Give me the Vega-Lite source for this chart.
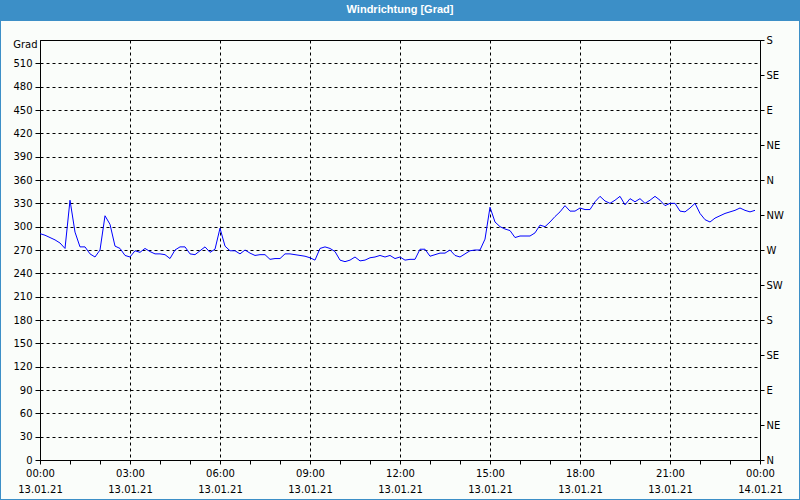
{
  "$schema": "https://vega.github.io/schema/vega-lite/v6.json",
  "width": 720,
  "height": 420,
  "autosize": {"type": "none"},
  "padding": {"left": 40, "top": 40, "right": 40, "bottom": 40},
  "background": "#fafdfa",
  "config": {
    "view": {"stroke": "black", "strokeWidth": 1},
    "axis": {"labelFont": "DejaVu Sans", "labelFontSize": 10, "labelColor": "black", "tickColor": "black", "domainColor": "black", "title": null}
  },
  "data": {"values": [
    {"t": "2021-01-13T00:00", "v": 291}, {"t": "2021-01-13T00:10", "v": 289}, {"t": "2021-01-13T00:20", "v": 286}, {"t": "2021-01-13T00:30", "v": 283}, {"t": "2021-01-13T00:40", "v": 279}, {"t": "2021-01-13T00:50", "v": 272},
    {"t": "2021-01-13T01:00", "v": 334}, {"t": "2021-01-13T01:10", "v": 293}, {"t": "2021-01-13T01:20", "v": 274}, {"t": "2021-01-13T01:30", "v": 274}, {"t": "2021-01-13T01:40", "v": 265}, {"t": "2021-01-13T01:50", "v": 261},
    {"t": "2021-01-13T02:00", "v": 270}, {"t": "2021-01-13T02:10", "v": 314}, {"t": "2021-01-13T02:20", "v": 303}, {"t": "2021-01-13T02:30", "v": 275}, {"t": "2021-01-13T02:40", "v": 272}, {"t": "2021-01-13T02:50", "v": 263},
    {"t": "2021-01-13T03:00", "v": 261}, {"t": "2021-01-13T03:10", "v": 269}, {"t": "2021-01-13T03:20", "v": 267}, {"t": "2021-01-13T03:30", "v": 272}, {"t": "2021-01-13T03:40", "v": 268}, {"t": "2021-01-13T03:50", "v": 265},
    {"t": "2021-01-13T04:00", "v": 265}, {"t": "2021-01-13T04:10", "v": 264}, {"t": "2021-01-13T04:20", "v": 259}, {"t": "2021-01-13T04:30", "v": 270}, {"t": "2021-01-13T04:40", "v": 274}, {"t": "2021-01-13T04:50", "v": 274},
    {"t": "2021-01-13T05:00", "v": 265}, {"t": "2021-01-13T05:10", "v": 264}, {"t": "2021-01-13T05:20", "v": 269}, {"t": "2021-01-13T05:30", "v": 274}, {"t": "2021-01-13T05:40", "v": 267}, {"t": "2021-01-13T05:50", "v": 271},
    {"t": "2021-01-13T06:00", "v": 298}, {"t": "2021-01-13T06:10", "v": 275}, {"t": "2021-01-13T06:20", "v": 269}, {"t": "2021-01-13T06:30", "v": 269}, {"t": "2021-01-13T06:40", "v": 265}, {"t": "2021-01-13T06:50", "v": 270},
    {"t": "2021-01-13T07:00", "v": 266}, {"t": "2021-01-13T07:10", "v": 263}, {"t": "2021-01-13T07:20", "v": 264}, {"t": "2021-01-13T07:30", "v": 264}, {"t": "2021-01-13T07:40", "v": 258}, {"t": "2021-01-13T07:50", "v": 259},
    {"t": "2021-01-13T08:00", "v": 259}, {"t": "2021-01-13T08:10", "v": 265}, {"t": "2021-01-13T08:20", "v": 265}, {"t": "2021-01-13T08:30", "v": 264}, {"t": "2021-01-13T08:40", "v": 263}, {"t": "2021-01-13T08:50", "v": 262},
    {"t": "2021-01-13T09:00", "v": 260}, {"t": "2021-01-13T09:10", "v": 257}, {"t": "2021-01-13T09:20", "v": 272}, {"t": "2021-01-13T09:30", "v": 274}, {"t": "2021-01-13T09:40", "v": 272}, {"t": "2021-01-13T09:50", "v": 268},
    {"t": "2021-01-13T10:00", "v": 257}, {"t": "2021-01-13T10:10", "v": 255}, {"t": "2021-01-13T10:20", "v": 257}, {"t": "2021-01-13T10:30", "v": 261}, {"t": "2021-01-13T10:40", "v": 256}, {"t": "2021-01-13T10:50", "v": 257},
    {"t": "2021-01-13T11:00", "v": 260}, {"t": "2021-01-13T11:10", "v": 261}, {"t": "2021-01-13T11:20", "v": 263}, {"t": "2021-01-13T11:30", "v": 261}, {"t": "2021-01-13T11:40", "v": 263}, {"t": "2021-01-13T11:50", "v": 259},
    {"t": "2021-01-13T12:00", "v": 261}, {"t": "2021-01-13T12:10", "v": 257}, {"t": "2021-01-13T12:20", "v": 258}, {"t": "2021-01-13T12:30", "v": 258}, {"t": "2021-01-13T12:40", "v": 271}, {"t": "2021-01-13T12:50", "v": 271},
    {"t": "2021-01-13T13:00", "v": 262}, {"t": "2021-01-13T13:10", "v": 264}, {"t": "2021-01-13T13:20", "v": 266}, {"t": "2021-01-13T13:30", "v": 266}, {"t": "2021-01-13T13:40", "v": 270}, {"t": "2021-01-13T13:50", "v": 263},
    {"t": "2021-01-13T14:00", "v": 261}, {"t": "2021-01-13T14:10", "v": 265}, {"t": "2021-01-13T14:20", "v": 269}, {"t": "2021-01-13T14:30", "v": 270}, {"t": "2021-01-13T14:40", "v": 270}, {"t": "2021-01-13T14:50", "v": 284},
    {"t": "2021-01-13T15:00", "v": 325}, {"t": "2021-01-13T15:10", "v": 306}, {"t": "2021-01-13T15:20", "v": 300}, {"t": "2021-01-13T15:30", "v": 297}, {"t": "2021-01-13T15:40", "v": 295}, {"t": "2021-01-13T15:50", "v": 286},
    {"t": "2021-01-13T16:00", "v": 288}, {"t": "2021-01-13T16:10", "v": 288}, {"t": "2021-01-13T16:20", "v": 288}, {"t": "2021-01-13T16:30", "v": 292}, {"t": "2021-01-13T16:40", "v": 302}, {"t": "2021-01-13T16:50", "v": 300},
    {"t": "2021-01-13T17:00", "v": 306}, {"t": "2021-01-13T17:10", "v": 313}, {"t": "2021-01-13T17:20", "v": 319}, {"t": "2021-01-13T17:30", "v": 327}, {"t": "2021-01-13T17:40", "v": 320}, {"t": "2021-01-13T17:50", "v": 320},
    {"t": "2021-01-13T18:00", "v": 324}, {"t": "2021-01-13T18:10", "v": 322}, {"t": "2021-01-13T18:20", "v": 322}, {"t": "2021-01-13T18:30", "v": 332}, {"t": "2021-01-13T18:40", "v": 339}, {"t": "2021-01-13T18:50", "v": 333},
    {"t": "2021-01-13T19:00", "v": 330}, {"t": "2021-01-13T19:10", "v": 334}, {"t": "2021-01-13T19:20", "v": 339}, {"t": "2021-01-13T19:30", "v": 328}, {"t": "2021-01-13T19:40", "v": 336}, {"t": "2021-01-13T19:50", "v": 332},
    {"t": "2021-01-13T20:00", "v": 336}, {"t": "2021-01-13T20:10", "v": 330}, {"t": "2021-01-13T20:20", "v": 334}, {"t": "2021-01-13T20:30", "v": 339}, {"t": "2021-01-13T20:40", "v": 334}, {"t": "2021-01-13T20:50", "v": 327},
    {"t": "2021-01-13T21:00", "v": 330}, {"t": "2021-01-13T21:10", "v": 330}, {"t": "2021-01-13T21:20", "v": 320}, {"t": "2021-01-13T21:30", "v": 319}, {"t": "2021-01-13T21:40", "v": 324}, {"t": "2021-01-13T21:50", "v": 330},
    {"t": "2021-01-13T22:00", "v": 317}, {"t": "2021-01-13T22:10", "v": 309}, {"t": "2021-01-13T22:20", "v": 306}, {"t": "2021-01-13T22:30", "v": 311}, {"t": "2021-01-13T22:40", "v": 314}, {"t": "2021-01-13T22:50", "v": 317},
    {"t": "2021-01-13T23:00", "v": 319}, {"t": "2021-01-13T23:10", "v": 321}, {"t": "2021-01-13T23:20", "v": 324}, {"t": "2021-01-13T23:30", "v": 321}, {"t": "2021-01-13T23:40", "v": 319}, {"t": "2021-01-13T23:50", "v": 321}
  ]},
  "layer": [
    {
      "mark": {"type": "line", "color": "#0000ff", "strokeWidth": 1},
      "encoding": {
        "x": {
          "field": "t", "type": "temporal",
          "scale": {"domain": [{"year": 2021, "month": 1, "date": 13, "hours": 0}, {"year": 2021, "month": 1, "date": 14, "hours": 0}], "nice": false},
          "axis": {
            "orient": "bottom",
            "title": null,
            "values": [
              {"year": 2021, "month": 1, "date": 13, "hours": 0}, {"year": 2021, "month": 1, "date": 13, "hours": 3}, {"year": 2021, "month": 1, "date": 13, "hours": 6},
              {"year": 2021, "month": 1, "date": 13, "hours": 9}, {"year": 2021, "month": 1, "date": 13, "hours": 12}, {"year": 2021, "month": 1, "date": 13, "hours": 15},
              {"year": 2021, "month": 1, "date": 13, "hours": 18}, {"year": 2021, "month": 1, "date": 13, "hours": 21}, {"year": 2021, "month": 1, "date": 14, "hours": 0}
            ],
            "labelExpr": "[timeFormat(datum.value, '%H:%M'), timeFormat(datum.value, '%d.%m.%y')]",
            "labelFlush": false,
            "labelOverlap": false,
            "labelBound": false,
            "labelPadding": 4,
            "labelLineHeight": 16,
            "tickSize": 4,
            "grid": true,
            "gridColor": "black",
            "gridDash": [3, 3]
          }
        },
        "y": {
          "field": "v", "type": "quantitative",
          "scale": {"domain": [0, 540], "nice": false},
          "axis": {
            "orient": "left",
            "values": [0, 30, 60, 90, 120, 150, 180, 210, 240, 270, 300, 330, 360, 390, 420, 450, 480, 510],
            "title": "Grad",
            "titleAngle": 0,
            "titleX": -3,
            "titleY": 4,
            "titleAlign": "right",
            "titleBaseline": "middle",
            "titleFont": "DejaVu Sans",
            "titleFontSize": 10,
            "titleFontWeight": "normal",
            "titleColor": "black",
            "labelPadding": 3,
            "tickSize": 5,
            "grid": true,
            "gridColor": "black",
            "gridDash": [3, 3],
            "labelOverlap": false
          }
        }
      }
    },
    {
      "mark": {"type": "line", "opacity": 0},
      "encoding": {
        "x": {
          "field": "t", "type": "temporal",
          "axis": {
            "orient": "bottom",
            "title": null,
            "values": [
              {"year": 2021, "month": 1, "date": 13, "hours": 1}, {"year": 2021, "month": 1, "date": 13, "hours": 2},
              {"year": 2021, "month": 1, "date": 13, "hours": 4}, {"year": 2021, "month": 1, "date": 13, "hours": 5},
              {"year": 2021, "month": 1, "date": 13, "hours": 7}, {"year": 2021, "month": 1, "date": 13, "hours": 8},
              {"year": 2021, "month": 1, "date": 13, "hours": 10}, {"year": 2021, "month": 1, "date": 13, "hours": 11},
              {"year": 2021, "month": 1, "date": 13, "hours": 13}, {"year": 2021, "month": 1, "date": 13, "hours": 14},
              {"year": 2021, "month": 1, "date": 13, "hours": 16}, {"year": 2021, "month": 1, "date": 13, "hours": 17},
              {"year": 2021, "month": 1, "date": 13, "hours": 19}, {"year": 2021, "month": 1, "date": 13, "hours": 20},
              {"year": 2021, "month": 1, "date": 13, "hours": 22}, {"year": 2021, "month": 1, "date": 13, "hours": 23}
            ],
            "labels": false,
            "grid": false,
            "domain": false,
            "tickSize": 4
          }
        },
        "y": {
          "field": "v", "type": "quantitative",
          "scale": {"domain": [0, 540], "nice": false},
          "axis": {
            "orient": "right",
            "values": [0, 45, 90, 135, 180, 225, 270, 315, 360, 405, 450, 495, 540],
            "labelExpr": "['N','NE','E','SE','S','SW','W','NW'][round(datum.value / 45) % 8]",
            "labelPadding": 2,
            "tickSize": 4,
            "grid": false,
            "labelOverlap": false
          }
        }
      }
    },
    {
      "data": {"values": [{}]},
      "mark": {"type": "rect", "fill": "#3c8fc7"},
      "encoding": {
        "x": {"datum": {"year": 2021, "month": 1, "date": 12, "hours": 22, "minutes": 40}, "type": "temporal", "axis": null},
        "x2": {"datum": {"year": 2021, "month": 1, "date": 14, "hours": 1, "minutes": 20}},
        "y": {"datum": 564.4, "type": "quantitative", "axis": null},
        "y2": {"datum": 600}
      }
    },
    {
      "data": {"values": [{}]},
      "mark": {"type": "rect", "fillOpacity": 0, "stroke": "#3c8fc7", "strokeWidth": 2},
      "encoding": {
        "x": {"datum": {"year": 2021, "month": 1, "date": 12, "hours": 22, "minutes": 40}, "type": "temporal", "axis": null},
        "x2": {"datum": {"year": 2021, "month": 1, "date": 14, "hours": 1, "minutes": 20}},
        "y": {"datum": -51.43, "type": "quantitative", "axis": null},
        "y2": {"datum": 591.43}
      }
    },
    {
      "data": {"values": [{}]},
      "mark": {"type": "text", "color": "white", "font": "Liberation Sans", "fontSize": 11, "fontWeight": "bold", "align": "center", "baseline": "middle"},
      "encoding": {
        "x": {"datum": {"year": 2021, "month": 1, "date": 13, "hours": 12}, "type": "temporal", "axis": null},
        "y": {"datum": 578, "type": "quantitative", "axis": null},
        "text": {"value": "Windrichtung [Grad]"}
      }
    }
  ],
  "resolve": {"axis": {"x": "independent", "y": "independent"}}
}
